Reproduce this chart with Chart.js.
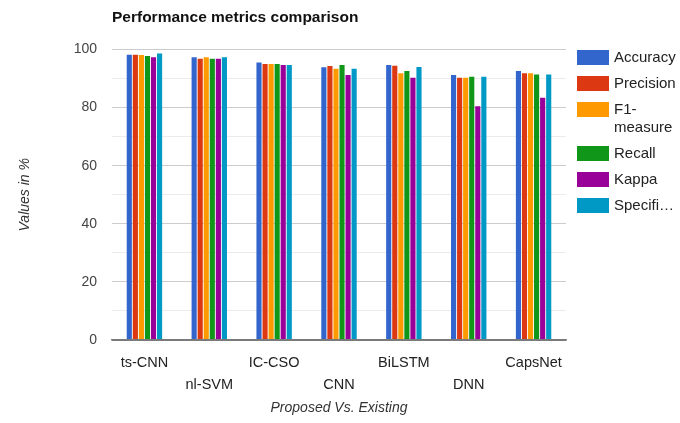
<!DOCTYPE html>
<html>
<head>
<meta charset="utf-8">
<script src="https://cdn.jsdelivr.net/npm/chart.js@4/dist/chart.umd.min.js"></script>
<style>
  body { margin: 0; background: #fff; font-family: "Liberation Sans", Arial, sans-serif; }
  #wrap { position: relative; width: 680px; height: 423px; overflow: hidden; }
  #title { position: absolute; left: 112px; top: 8px; font-size: 15.5px; font-weight: bold; color: #111; }
  #legend { position: absolute; left: 577px; top: 48px; }
  .item { display: flex; align-items: flex-start; margin-bottom: 8px; }
  .box { width: 32px; height: 15px; margin-top: 2px; flex: none; }
  .txt { width: 64px; margin-left: 5px; font-size: 15px; line-height: 18px; color: #222; overflow: hidden; text-overflow: ellipsis; }
</style>
</head>
<body>
<div id="wrap">
  <canvas id="chart" width="680" height="423"></canvas>
  <div id="title">Performance metrics comparison</div>
  <div id="legend"></div>
</div>
<script>
const categories = ["ts-CNN", "nl-SVM", "IC-CSO", "CNN", "BiLSTM", "DNN", "CapsNet"];
const seriesNames = ["Accuracy", "Precision", "F1-measure", "Recall", "Kappa", "Specificity"];
const seriesColors = ["#3366cc", "#dc3912", "#ff9900", "#109618", "#990099", "#0099c6"];

const accuracy    = [98.2, 97.3, 95.5, 93.9, 94.7, 91.2, 92.6];
const precision   = [98.2, 96.8, 95.0, 94.3, 94.4, 90.3, 91.8];
const f1Measure   = [98.1, 97.3, 95.0, 93.4, 91.8, 90.3, 91.8];
const recall      = [97.8, 96.8, 95.0, 94.7, 92.6, 90.6, 91.4];
const kappa       = [97.3, 96.8, 94.7, 91.2, 90.3, 80.5, 83.4];
const specificity = [98.6, 97.3, 94.7, 93.4, 94.0, 90.6, 91.4];

const seriesValues = [accuracy, precision, f1Measure, recall, kappa, specificity];

const yTicks = [0, 20, 40, 60, 80, 100];

const fontFamily = '"Liberation Sans", Arial, sans-serif';

function renderLegend() {
    const legend = document.getElementById("legend");
    legend.innerHTML = seriesNames.map((name, i) => `
        <div class="item">
            <div class="box" style="background:${seriesColors[i]}"></div>
            <div class="txt">${name}</div>
        </div>
    `).join("");
}

function createChart() {
    const ctx = document.getElementById("chart");
    new Chart(ctx, {
        type: "bar",
        data: {
            labels: categories,
            datasets: seriesNames.map((name, i) => ({
                label: name,
                data: seriesValues[i],
                backgroundColor: seriesColors[i],
                borderWidth: 0
            }))
        },
        options: {
            responsive: false,
            animation: false,
            layout: { padding: { top: 49.5, right: 114, left: 0, bottom: 0 } },
            datasets: { bar: { categoryPercentage: 0.56, barPercentage: 0.85 } },
            plugins: {
                legend: { display: false },
                tooltip: { enabled: false }
            },
            scales: {
                x: {
                    grid: { display: false, z: 1 },
                    border: { display: true, color: "#7a7a7a", width: 1.5, z: 1 },
                    ticks: {
                        autoSkip: false,
                        maxRotation: 0,
                        padding: 4,
                        color: "#222",
                        font: { family: fontFamily, size: 14.5, lineHeight: "22px" },
                        callback: (value, i) => (i % 2 ? ["", categories[i]] : categories[i])
                    },
                    title: {
                        display: true,
                        text: "Proposed Vs. Existing",
                        color: "#333",
                        font: { family: fontFamily, size: 14, style: "italic" },
                        padding: { top: 0, bottom: 6.6 }
                    },
                    afterFit: (scale) => { scale.height = 83; }
                },
                y: {
                    min: 0,
                    max: 100,
                    border: { display: false },
                    grid: {
                        drawTicks: false,
                        color: (c) => {
                            const v = c.tick.value;
                            if (v === 0) return "#7a7a7a";
                            return yTicks.includes(v) ? "#cccccc" : "#ebebeb";
                        }
                    },
                    ticks: {
                        stepSize: 10,
                        padding: 15,
                        color: "#444",
                        font: { family: fontFamily, size: 14 },
                        callback: (v) => (yTicks.includes(v) ? v : "")
                    },
                    title: {
                        display: true,
                        text: "Values in %",
                        color: "#333",
                        font: { family: fontFamily, size: 14, style: "italic" },
                        padding: { top: 16.6, bottom: 0 }
                    },
                    afterFit: (scale) => { scale.width = 112; }
                }
            }
        }
    });
}

renderLegend();
createChart();
</script>
</body>
</html>
